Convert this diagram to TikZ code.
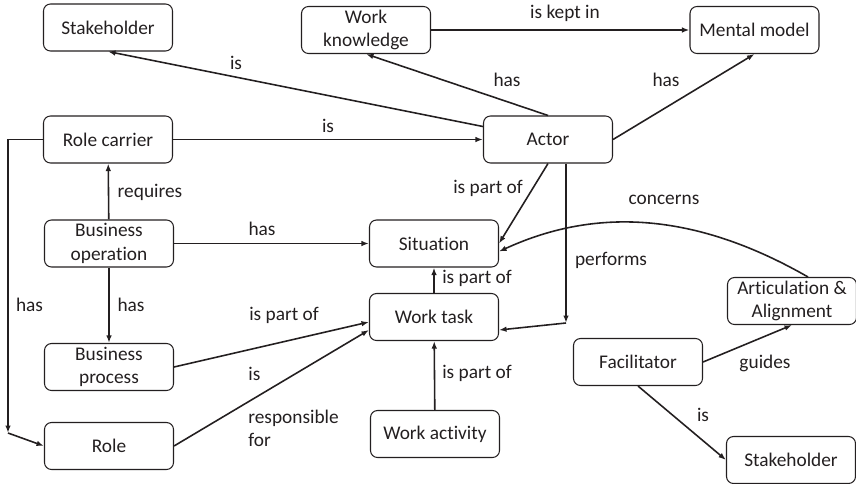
\documentclass[tikz,border=0pt]{standalone}
\usepackage{fontspec}
\setmainfont{Carlito}[Ligatures=NoCommon]
\usetikzlibrary{arrows.meta, calc}
\definecolor{ink}{HTML}{231F20}

\begin{document}
\begin{tikzpicture}[
  >={Latex[length=1.5mm, width=1.1mm]},
  box/.style={draw=ink, line width=0.6pt, rounded corners=4pt, minimum width=2.58cm,
    minimum height=0.94cm, align=center, inner sep=1pt, text=ink,
    font=\fontsize{11}{13.5}\selectfont},
  link/.style={draw=ink, line width=0.9pt, ->},
  lbl/.style={text=ink, font=\fontsize{11}{13.5}\selectfont}
]

\useasboundingbox (0,0) rectangle (17.12,9.66);

% Concepts
\node[box] (sh1)   at (2.16,9.11)  {Stakeholder};
\node[box] (wk)    at (7.32,9.06)  {Work\\knowledge};
\node[box] (mm)    at (15.09,9.06) {Mental model};
\node[box] (actor) at (10.96,6.87) {Actor};
\node[box] (rc)    at (2.16,6.87)  {Role carrier};
\node[box] (bo)    at (2.18,4.79)  {Business\\operation};
\node[box] (sit)   at (8.68,4.79)  {Situation};
\node[box] (wt)    at (8.68,3.32)  {Work task};
\node[box] (bp)    at (2.18,2.32)  {Business\\process};
\node[box] (role)  at (2.18,0.74)  {Role};
\node[box] (wa)    at (8.70,0.98)  {Work activity};
\node[box] (art)   at (15.84,3.64) {Articulation \&\\Alignment};
\node[box] (fac)   at (12.76,2.42) {Facilitator};
\node[box] (sh2)   at (15.82,0.46) {Stakeholder};

% Corner points of the bent connectors
\coordinate (c1) at (0.16,1.00);
\coordinate (c2) at (11.32,3.20);

% Relations
\draw[link] (actor) -- (sh1.south);
\draw[link] (actor.north) -- (wk.south);
\draw[link] (wk) -- (mm);
\draw[link] (actor.east) -- (mm.south);
\draw[link] (rc) -- (actor);
\draw[link] (bo) -- (rc);
\draw[link] (bo) -- (sit);
\draw[link] (bo) -- (bp);
\draw[link] (rc.west) -| (c1);
\draw[link] (c1) -- (role.west);
\draw[link] (actor.south) -- (sit.east);
\draw[link] (actor.south -| c2) -- (c2);
\draw[link] (c2) -- ([yshift=-0.26cm]wt.east);
\draw[link] ($(art.north)+(0.32,0)$) .. controls (14.0,5.36) and (12.0,5.56) .. ([yshift=-0.16cm]sit.east);
\draw[link] (wt) -- (sit);
\draw[link] (bp.east) -- ([yshift=-0.1cm]wt.west);
\draw[link] (role.east) -- ([yshift=-0.26cm]wt.west);
\draw[link] (wa) -- (wt);
\draw[link] (fac.east) -- (art.south);
\draw[link] (fac.south) -- (sh2.west);

% Relation labels
\node[lbl] (l1)  at (4.72,8.40)  {is};
\node[lbl] (l2)  at (10.14,8.06) {has};
\node[lbl] (l3)  at (11.30,9.40) {is kept in};
\node[lbl] (l4)  at (13.32,8.06) {has};
\node[lbl] (l5)  at (6.56,7.14)  {is};
\node[lbl] (l6)  at (3.00,5.82)  {requires};
\node[lbl] (l7)  at (5.24,5.08)  {has};
\node[lbl] (l8)  at (2.62,3.56)  {has};
\node[lbl] (l9)  at (0.59,3.56)  {has};
\node[lbl] (l10) at (5.68,3.36)  {is part of};
\node[lbl, align=left, anchor=west, inner sep=0pt] (l11) at (4.96,1.52) {is\\[11pt]responsible\\for};
\node[lbl] (l12) at (9.76,5.90)  {is part of};
\node[lbl] (l13) at (13.28,5.66) {concerns};
\node[lbl] (l14) at (12.22,4.46) {performs};
\node[lbl] (l15) at (9.54,4.10)  {is part of};
\node[lbl] (l16) at (9.54,2.20)  {is part of};
\node[lbl] (l17) at (15.30,2.40) {guides};
\node[lbl] (l18) at (14.06,1.36) {is};

\end{tikzpicture}
\end{document}
